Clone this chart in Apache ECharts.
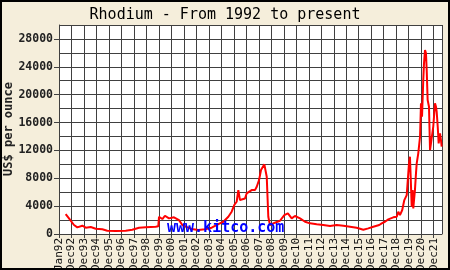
<!DOCTYPE html>
<html>
<head>
<meta charset="utf-8">
<script src="https://cdn.jsdelivr.net/npm/echarts@6/dist/echarts.min.js"></script>
<style>
html,body{margin:0;padding:0;background:#f5eedb;}
#chart{width:450px;height:270px;}
</style>
</head>
<body>
<div id="chart"></div>
<script>
// x positions: months since Dec 1991 (Jan92 = 1, Dec92 = 12, ...)
const months = [6.4, 9.6, 14.4, 17.6, 22.4, 25.7, 30.5, 35.3, 41.6, 46.4, 54.5, 64.1, 70.4, 76.9, 83.3, 92.9, 95.4,
  96.1, 99.3, 101.8, 105.7, 110.5, 115.3, 118.5, 121.7, 127.5, 133.8, 140.3, 146.7, 153.1, 157.9, 162.7, 165.9,
  168.4, 170.7, 172.3, 173.9, 178.7, 180.3, 185.1, 188.3, 190.0, 192.2, 194.1, 195.3, 197.3, 198.6, 199.6, 201.1,
  202.7, 207.5, 212.3, 216.5, 217.7, 219.9, 223.6, 226.7, 231.6, 236.4, 241.2, 247.6, 253.9, 260.4, 266.8, 273.2,
  279.6, 286.0, 292.4, 297.2, 302.0, 307.7, 310.1, 313.2, 316.4, 321.2, 324.5, 326.0, 327.6, 329.8, 331.8, 334.1,
  335.3, 336.3, 337.2, 337.9, 338.9, 339.8, 340.4, 342.0, 343.0, 343.7, 345.2, 346.9, 347.8, 348.8, 350.0, 350.7,
  351.7, 352.6, 353.3, 354.2, 355.5, 356.5, 357.4, 358.7, 359.6, 361.3, 362.2, 362.9, 363.9, 364.8, 366.1, 367.0, 367.7];
const prices = [2860, 2240, 1290, 950, 1190, 900, 1000, 760, 670, 470, 430, 470, 620, 900, 960, 1050, 1100,
  2480, 2150, 2620, 2240, 2390, 2000, 1290, 1050, 720, 570, 670, 900, 1430, 1760, 2480, 3200,
  4160, 4630, 6300, 4870, 5100, 5820, 6300, 6300, 6780, 7740, 9180, 9420, 10000, 9900, 8220, 2480,
  1290, 1620, 1900, 2720, 2820, 2960, 2240, 2580, 2240, 1760, 1530, 1390, 1290, 1150, 1290, 1190,
  1050, 900, 620, 810, 1050, 1290, 1530, 1760, 2100, 2390, 2480, 3200, 2720, 3440, 4870, 5590,
  5830, 10140, 11100, 8220, 3920, 6300, 3680, 6300, 8700, 10140, 11580, 13960, 18750, 16830, 22100, 24490,
  26400, 25930, 23530, 19230, 18270, 12050, 13010, 13010, 15400, 18750, 18270, 17550, 15400, 13010, 14450, 13490, 12530];
const xLabels = ['Jan92','Dec92','Dec93','Dec94','Dec95','Dec96','Dec97','Dec98','Dec99','Dec00','Dec01','Dec02',
  'Dec03','Dec04','Dec05','Dec06','Dec07','Dec08','Dec09','Dec10','Dec11','Dec12','Dec13','Dec14','Dec15','Dec16',
  'Dec17','Dec18','Dec19','Dec20','Dec21'];
const yTicks = [0, 4000, 8000, 12000, 16000, 20000, 24000, 28000];
const titleText = 'Rhodium - From 1992 to present';
const yName = 'US$ per ounce';
const watermark = 'www.kitco.com';

const mono = 'DejaVu Sans Mono';
const gridColor = '#404040';
const chart = echarts.init(document.getElementById('chart'), null, {renderer: 'canvas'});
chart.setOption({
  animation: false,
  backgroundColor: '#f5eedb',
  title: {
    text: titleText, left: 'center', top: 3,
    textStyle: {fontFamily: mono, fontSize: 15, fontWeight: 'normal', color: '#000'}
  },
  grid: {left: 59, top: 25, right: 8, bottom: 36, show: true, backgroundColor: '#ffffff', borderWidth: 0,
    containLabel: false, outerBoundsMode: 'none'},
  xAxis: {
    type: 'value', min: 0, max: 368, interval: 12,
    axisLine: {show: true, lineStyle: {color: gridColor, width: 1}},
    axisTick: {show: true, length: 4, lineStyle: {color: gridColor}},
    splitLine: {show: true, lineStyle: {color: gridColor, width: 1}},
    axisLabel: {
      rotate: 90, margin: 4, fontFamily: mono, fontSize: 11, color: '#111',
      showMaxLabel: false, hideOverlap: false,
      formatter: v => (v % 12 === 0 && xLabels[v / 12]) ? xLabels[v / 12] : ''
    }
  },
  yAxis: [{
    type: 'value', min: 0, max: 30000, interval: 2000,
    axisLine: {show: true, lineStyle: {color: gridColor, width: 1}},
    axisTick: {show: false},
    axisLabel: {show: false},
    splitLine: {show: true, lineStyle: {color: gridColor, width: 1}}
  }, {
    type: 'value', min: 0, max: 30000, interval: 4000, position: 'left',
    axisLine: {show: false},
    splitLine: {show: false},
    axisTick: {show: true, length: 5, customValues: yTicks, lineStyle: {color: gridColor}},
    axisLabel: {
      customValues: yTicks, margin: 6, fontFamily: mono, fontSize: 11.5, fontWeight: 'bold', color: '#222',
      formatter: v => yTicks.includes(v) ? String(v) : ''
    }
  }],
  series: [{
    type: 'line', yAxisIndex: 0, showSymbol: false, symbol: 'none',
    lineStyle: {color: '#ff0000', width: 2},
    data: months.map((m, i) => [m, prices[i]]),
    z: 3
  }],
  graphic: [{
    type: 'text', x: 9, y: 129, rotation: Math.PI / 2, z: 100,
    style: {text: yName, fill: '#222', font: 'bold 12px "DejaVu Sans Mono"', align: 'center', verticalAlign: 'middle'}
  }, {
    type: 'text', left: 167, top: 221, z: 100,
    style: {text: watermark, fill: '#0000ff', font: 'bold 15px "DejaVu Sans Mono"'}
  }, {
    type: 'rect', z: 100, silent: true,
    shape: {x: 1, y: 1, width: 448, height: 268},
    style: {fill: 'none', stroke: '#000', lineWidth: 2}
  }]
});
</script>
</body>
</html>
